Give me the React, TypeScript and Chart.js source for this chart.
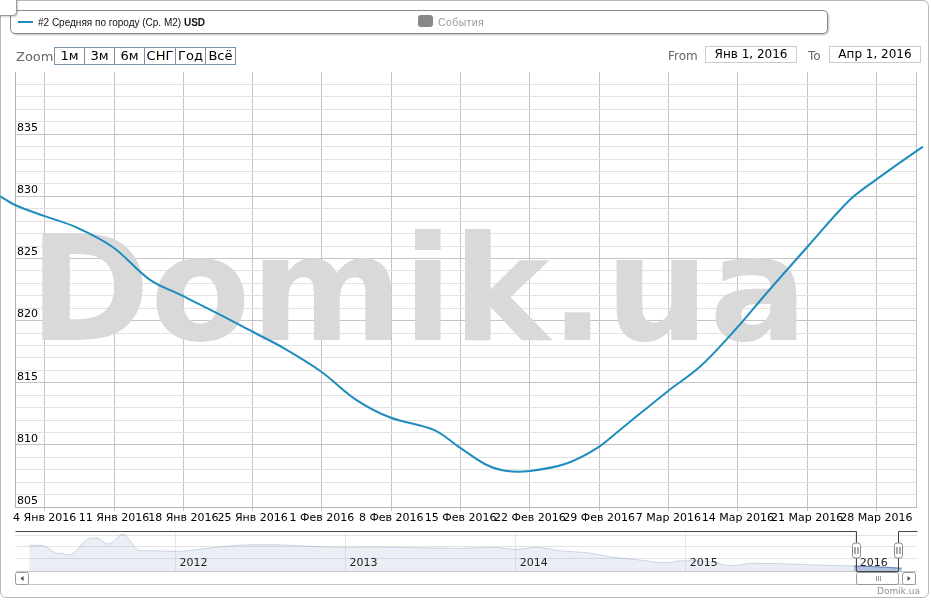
import React, { useEffect, useRef } from 'react';
import { Chart, registerables } from 'chart.js';

Chart.register(...registerables);
Chart.defaults.font.family = 'DejaVu Sans';

// ---------- Main chart data (days counted from 1 Jan 2016) ----------
const X_MIN_DAY = 0; // Янв 1, 2016
const X_MAX_DAY = 91; // Апр 1, 2016
const WEEK_TICK_DAYS = [3, 10, 17, 24, 31, 38, 45, 52, 59, 66, 73, 80, 87];
const WEEK_TICK_LABELS = [
  '4 Янв 2016', '11 Янв 2016', '18 Янв 2016', '25 Янв 2016', '1 Фев 2016', '8 Фев 2016',
  '15 Фев 2016', '22 Фев 2016', '29 Фев 2016', '7 Мар 2016', '14 Мар 2016', '21 Мар 2016', '28 Мар 2016',
];
const PRICE_DAYS = [
  -1.5, 0, 3.0, 6.2, 9.9, 13.6, 16.9, 20.4, 24.0, 27.1, 30.9, 34.5, 37.9, 42.3, 44.9,
  47.6, 49.7, 52.0, 55.7, 58.9, 61.1, 65.9, 69.2, 72.9, 75.9, 80.0, 84.3, 86.9, 91.7, 92.6,
];
const PRICE_USD = [
  830.0, 829.3, 828.4, 827.5, 825.9, 823.3, 822.0, 820.6, 819.1, 817.8, 815.9, 813.6, 812.2, 811.2, 809.8,
  808.4, 807.9, 807.9, 808.5, 809.8, 811.2, 814.3, 816.3, 819.4, 822.2, 825.9, 829.7, 831.3, 834.0, 834.4,
];
const Y_MIN = 805;
const Y_MAX = 840;
const Y_MINOR_STEP = 1;
const Y_MAJOR_STEP = 5;
const Y_TICK_VALUES = [805, 810, 815, 820, 825, 830, 835];
const Y_TICK_LABELS = ['805', '810', '815', '820', '825', '830', '835'];

// ---------- Navigator data (fractional years) ----------
const NAV_MIN = 2011.056;
const NAV_MAX = 2016.36;
const NAV_YEAR_TICKS = [2012, 2013, 2014, 2015, 2016];
const NAV_YEAR_LABELS = ['2012', '2013', '2014', '2015', '2016'];
const NAV_YEARS = [
  2011.14, 2011.21, 2011.28, 2011.31, 2011.33, 2011.36, 2011.39, 2011.49, 2011.54, 2011.60,
  2011.63, 2011.69, 2011.79, 2011.85, 2012.01, 2012.20, 2012.44, 2012.59, 2012.79, 2012.99,
  2013.18, 2013.52, 2013.67, 2013.87, 2014.00, 2014.12, 2014.26, 2014.45, 2014.55, 2014.73,
  2014.88, 2014.98, 2015.14, 2015.27, 2015.39, 2015.62, 2015.82, 2015.99, 2016.12, 2016.27,
];
const NAV_USD = [
  1221, 1221, 1117, 1075, 1087, 1057, 1070, 1336, 1348, 1244,
  1278, 1418, 1127, 1127, 1117, 1174, 1231, 1231, 1204, 1186,
  1191, 1174, 1169, 1186, 1151, 1186, 1127, 1082, 1023, 965,
  918, 953, 936, 866, 908, 896, 873, 861, 849, 821,
];
const NAV_Y_MIN = 774;
const NAV_Y_MAX = 1470;
const NAV_Y_GRID = [1000, 1200, 1400];
const RANGE_FROM = 2016.0;
const RANGE_TO = 2016.249;

const SERIES_COLOR = '#1e8cbe';
const WATERMARK_TEXT = 'Domik.ua';
const LEGEND_SERIES = '#2 Средняя по городу (Ср. М2) ';
const LEGEND_UNIT = 'USD';
const LEGEND_EVENTS = 'События';
const ZOOM_BUTTONS = ['1м', '3м', '6м', 'СНГ', 'Год', 'Всё'];
const ZOOM_WIDTHS = [30, 30, 30, 31, 30, 30];
const FROM_TEXT = 'Янв 1, 2016';
const TO_TEXT = 'Апр 1, 2016';

const watermarkPlugin = {
  id: 'watermark',
  beforeDatasetsDraw(chart: any) {
    const { ctx, chartArea: a } = chart;
    ctx.save();
    ctx.font = 'bold 146px "DejaVu Sans"';
    ctx.fillStyle = '#d9d9d9';
    ctx.textBaseline = 'alphabetic';
    ctx.textAlign = 'left';
    ctx.fillText(WATERMARK_TEXT, a.left + 14, 340);
    ctx.strokeStyle = '#c0c0c0';
    ctx.lineWidth = 1;
    const rx = Math.round(a.right) + 0.5;
    ctx.beginPath();
    ctx.moveTo(rx, a.top);
    ctx.lineTo(rx, a.bottom);
    ctx.stroke();
    ctx.restore();
  },
};

function rrect(ctx: CanvasRenderingContext2D, x: number, y: number, w: number, h: number, r: number) {
  ctx.beginPath();
  ctx.moveTo(x + r, y);
  ctx.lineTo(x + w - r, y);
  ctx.quadraticCurveTo(x + w, y, x + w, y + r);
  ctx.lineTo(x + w, y + h - r);
  ctx.quadraticCurveTo(x + w, y + h, x + w - r, y + h);
  ctx.lineTo(x + r, y + h);
  ctx.quadraticCurveTo(x, y + h, x, y + h - r);
  ctx.lineTo(x, y + r);
  ctx.quadraticCurveTo(x, y, x + r, y);
  ctx.closePath();
}

const navPlugin = {
  id: 'navDecor',
  afterDraw(chart: any) {
    const { ctx, chartArea: a, scales } = chart;
    const xs = scales.x;
    const x1 = Math.round(xs.getPixelForValue(RANGE_FROM)) + 0.5;
    const x2 = Math.round(xs.getPixelForValue(RANGE_TO)) + 0.5;
    const top = Math.round(a.top) + 0.5;
    const bot = Math.round(a.bottom) + 0.5;
    const L = Math.round(a.left) + 0.5;
    const R = Math.round(a.right) - 0.5;
    ctx.save();
    // year labels
    ctx.font = '11px "DejaVu Sans"';
    ctx.fillStyle = '#222';
    ctx.textAlign = 'left';
    ctx.textBaseline = 'alphabetic';
    NAV_YEAR_TICKS.forEach((yv, i) => {
      ctx.fillText(NAV_YEAR_LABELS[i], xs.getPixelForValue(yv) + 4, a.bottom - 5);
    });
    // scrollbar track
    const sTop = bot;
    const sBot = bot + 13;
    ctx.strokeStyle = '#c4c4c4';
    ctx.lineWidth = 1;
    ctx.beginPath();
    ctx.moveTo(L, sBot);
    ctx.lineTo(R, sBot);
    ctx.moveTo(L, sTop);
    ctx.lineTo(R, sTop);
    ctx.stroke();
    // scrollbar buttons
    ctx.fillStyle = '#fff';
    ctx.strokeStyle = '#999';
    rrect(ctx, L, sTop + 1, 13, 12, 2);
    ctx.fill();
    ctx.stroke();
    rrect(ctx, R - 14, sTop + 1, 13, 12, 2);
    ctx.fill();
    ctx.stroke();
    ctx.fillStyle = '#444';
    const cy = sTop + 7;
    ctx.beginPath();
    ctx.moveTo(L + 5, cy);
    ctx.lineTo(L + 8, cy - 2.5);
    ctx.lineTo(L + 8, cy + 2.5);
    ctx.closePath();
    ctx.fill();
    ctx.beginPath();
    ctx.moveTo(R - 6, cy);
    ctx.lineTo(R - 9, cy - 2.5);
    ctx.lineTo(R - 9, cy + 2.5);
    ctx.closePath();
    ctx.fill();
    // scrollbar thumb
    ctx.fillStyle = '#fff';
    ctx.strokeStyle = '#999';
    rrect(ctx, x1, sTop + 1, x2 - x1, 12, 2);
    ctx.fill();
    ctx.stroke();
    const mid = Math.round((x1 + x2) / 2) + 0.5;
    ctx.strokeStyle = '#999';
    ctx.beginPath();
    for (const dx of [-2, 0, 2]) {
      ctx.moveTo(mid + dx, cy - 2.5);
      ctx.lineTo(mid + dx, cy + 2.5);
    }
    ctx.stroke();
    // outline
    ctx.strokeStyle = '#444';
    ctx.beginPath();
    ctx.moveTo(L, top);
    ctx.lineTo(x1, top);
    ctx.lineTo(x1, bot);
    ctx.lineTo(x2, bot);
    ctx.lineTo(x2, top);
    ctx.lineTo(R + 1, top);
    ctx.stroke();
    // handles
    const hy = top + 11.5;
    for (const hx of [x1, x2]) {
      ctx.fillStyle = '#fff';
      ctx.strokeStyle = '#888';
      rrect(ctx, hx - 4, hy, 8, 15, 2.5);
      ctx.fill();
      ctx.stroke();
      ctx.strokeStyle = '#555';
      ctx.beginPath();
      ctx.moveTo(hx - 1.5, hy + 4);
      ctx.lineTo(hx - 1.5, hy + 11);
      ctx.moveTo(hx + 1.5, hy + 4);
      ctx.lineTo(hx + 1.5, hy + 11);
      ctx.stroke();
    }
    ctx.restore();
  },
};

export default function App() {
  const mainRef = useRef<HTMLCanvasElement>(null);
  const navRef = useRef<HTMLCanvasElement>(null);

  useEffect(() => {
    const yTicks: number[] = [];
    for (let v = Y_MIN; v <= Y_MAX; v += Y_MINOR_STEP) yTicks.push(v);

    const main = new Chart(mainRef.current as HTMLCanvasElement, {
      type: 'line',
      data: {
        datasets: [
          {
            data: PRICE_DAYS.map((d, i) => ({ x: d, y: PRICE_USD[i] })),
            borderColor: SERIES_COLOR,
            borderWidth: 2,
            pointRadius: 0,
            fill: false,
            tension: 0.35,
            clip: { left: 16, right: 16, top: 0, bottom: 0 },
          } as any,
        ],
      },
      options: {
        animation: false,
        responsive: false,
        maintainAspectRatio: false,
        events: [],
        layout: { padding: { left: 15, right: 15, top: 72, bottom: 0 } },
        plugins: { legend: { display: false }, tooltip: { enabled: false } },
        scales: {
          x: {
            type: 'linear',
            min: X_MIN_DAY,
            max: X_MAX_DAY,
            afterBuildTicks: (s: any) => {
              s.ticks = WEEK_TICK_DAYS.map((v) => ({ value: v }));
            },
            afterFit: (s: any) => {
              s.height = 23;
            },
            ticks: {
              autoSkip: false,
              maxRotation: 0,
              minRotation: 0,
              padding: 1,
              color: '#000',
              font: { size: 11, family: 'DejaVu Sans' },
              callback: (v: any) => {
                const i = WEEK_TICK_DAYS.indexOf(Number(v));
                return i >= 0 ? WEEK_TICK_LABELS[i] : '';
              },
            },
            grid: { color: '#c4c4c4', tickLength: 4, drawTicks: true },
            border: { color: '#b4b4b4' },
          },
          y: {
            type: 'linear',
            min: Y_MIN,
            max: Y_MAX,
            afterBuildTicks: (s: any) => {
              s.ticks = yTicks.map((v) => ({ value: v }));
            },
            afterFit: (s: any) => {
              s.width = 0;
            },
            ticks: {
              autoSkip: false,
              mirror: true,
              padding: 2,
              labelOffset: -6,
              color: '#000',
              font: { size: 11, family: 'DejaVu Sans' },
              callback: (v: any) => {
                const i = Y_TICK_VALUES.indexOf(Number(v));
                return i >= 0 ? Y_TICK_LABELS[i] : '';
              },
            },
            grid: {
              drawTicks: false,
              color: (c: any) => {
                const v = c.tick ? c.tick.value : 0;
                if (v === Y_MAX) return 'rgba(0,0,0,0)';
                return v % Y_MAJOR_STEP === 0 ? '#c4c4c4' : '#e2e2e2';
              },
            },
            border: { color: '#b4b4b4' },
          },
        },
      } as any,
      plugins: [watermarkPlugin],
    });

    const navAll = NAV_YEARS.map((t, i) => ({ x: t, y: NAV_USD[i] }));
    const navSel = navAll.filter((p) => p.x >= RANGE_FROM - 0.02);

    const nav = new Chart(navRef.current as HTMLCanvasElement, {
      type: 'line',
      data: {
        datasets: [
          {
            data: navAll,
            borderColor: 'rgba(120,145,190,0.35)',
            borderWidth: 1,
            backgroundColor: 'rgba(120,145,190,0.15)',
            fill: 'start',
            pointRadius: 0,
            cubicInterpolationMode: 'monotone',
          } as any,
          {
            data: navSel,
            borderColor: 'rgba(70,100,160,0.8)',
            borderWidth: 1,
            backgroundColor: 'rgba(102,133,194,0.45)',
            fill: 'start',
            pointRadius: 0,
            cubicInterpolationMode: 'monotone',
          } as any,
        ],
      },
      options: {
        animation: false,
        responsive: false,
        maintainAspectRatio: false,
        events: [],
        layout: { padding: { left: 15, right: 14, top: 3, bottom: 29 } },
        plugins: { legend: { display: false }, tooltip: { enabled: false } },
        scales: {
          x: {
            type: 'linear',
            min: NAV_MIN,
            max: NAV_MAX,
            afterBuildTicks: (s: any) => {
              s.ticks = NAV_YEAR_TICKS.map((v) => ({ value: v }));
            },
            afterFit: (s: any) => {
              s.height = 0;
            },
            ticks: { display: false },
            grid: { color: '#e8e8e8', drawTicks: false },
            border: { display: false },
          },
          y: {
            type: 'linear',
            min: NAV_Y_MIN,
            max: NAV_Y_MAX,
            afterBuildTicks: (s: any) => {
              s.ticks = NAV_Y_GRID.map((v) => ({ value: v }));
            },
            afterFit: (s: any) => {
              s.width = 0;
            },
            ticks: { display: false },
            grid: { color: '#e4e4e4', drawTicks: false },
            border: { display: false },
          },
        },
      } as any,
      plugins: [navPlugin],
    });

    return () => {
      main.destroy();
      nav.destroy();
    };
  }, []);

  const labelFont: React.CSSProperties = { fontFamily: '"DejaVu Sans"', fontSize: 12, color: '#666', position: 'absolute', lineHeight: '18px' };
  let bx = 54;

  return (
    <div style={{ position: 'absolute', left: 0, top: 0, width: 931, height: 600, background: '#fff', overflow: 'hidden' }}>
      <div style={{ position: 'absolute', left: 0, top: 0, width: 927, height: 596, border: '1px solid #b8b8b8', borderRadius: 6 }} />
      <canvas ref={mainRef} width={931} height={530} style={{ position: 'absolute', left: 0, top: 0 }} />
      <canvas ref={navRef} width={931} height={72} style={{ position: 'absolute', left: 0, top: 528 }} />

      {/* legend */}
      <div style={{ position: 'absolute', left: 10, top: 10, width: 816, height: 22, border: '1px solid #8c8c8c', borderRadius: 5, background: '#fff', boxShadow: '1px 1px 2px rgba(0,0,0,0.25)' }} />
      <div style={{ position: 'absolute', left: 18, top: 21, width: 15, height: 2, background: SERIES_COLOR }} />
      <div style={{ position: 'absolute', left: 38, top: 15, fontFamily: '"Liberation Sans"', fontSize: 10, lineHeight: '15px', color: '#111', whiteSpace: 'nowrap' }}>
        {LEGEND_SERIES}
        <b>{LEGEND_UNIT}</b>
      </div>
      <div style={{ position: 'absolute', left: 418, top: 15, width: 15, height: 12, background: '#888', borderRadius: 3 }} />
      <div style={{ position: 'absolute', left: 438, top: 15, fontFamily: '"Liberation Sans"', fontSize: 10.5, lineHeight: '15px', color: '#999', whiteSpace: 'nowrap', letterSpacing: 0.4 }}>
        {LEGEND_EVENTS}
      </div>

      {/* small corner box */}
      <div style={{ position: 'absolute', left: -4, top: -4, width: 19, height: 18, border: '1px solid #9a9a9a', borderRadius: 4, background: '#fff', boxShadow: '1px 1px 2px rgba(0,0,0,0.2)' }} />

      {/* range selector */}
      <div style={{ ...labelFont, left: 16, top: 48, fontSize: 13 }}>Zoom</div>
      {ZOOM_BUTTONS.map((b, i) => {
        const left = bx;
        bx += ZOOM_WIDTHS[i];
        return (
          <div
            key={b}
            style={{
              position: 'absolute',
              left,
              top: 47,
              width: ZOOM_WIDTHS[i] + 1,
              height: 18,
              boxSizing: 'border-box',
              border: '1px solid #7890a8',
              fontFamily: '"DejaVu Sans"',
              fontSize: 13,
              lineHeight: '16px',
              textAlign: 'center',
              color: '#000',
              background: '#fff',
            }}
          >
            {b}
          </div>
        );
      })}
      <div style={{ ...labelFont, left: 668, top: 47, fontSize: 12 }}>From</div>
      <div style={{ position: 'absolute', left: 705, top: 46, width: 92, height: 17, boxSizing: 'border-box', border: '1px solid #cccccc', fontFamily: '"DejaVu Sans"', fontSize: 12, lineHeight: '15px', textAlign: 'center', color: '#000' }}>
        {FROM_TEXT}
      </div>
      <div style={{ ...labelFont, left: 808, top: 47, fontSize: 12 }}>To</div>
      <div style={{ position: 'absolute', left: 829, top: 46, width: 92, height: 17, boxSizing: 'border-box', border: '1px solid #cccccc', fontFamily: '"DejaVu Sans"', fontSize: 12, lineHeight: '15px', textAlign: 'center', color: '#000' }}>
        {TO_TEXT}
      </div>

      {/* credits */}
      <div style={{ position: 'absolute', right: 11, top: 585, fontFamily: '"DejaVu Sans"', fontSize: 9, lineHeight: '12px', color: '#909090' }}>Domik.ua</div>
    </div>
  );
}
